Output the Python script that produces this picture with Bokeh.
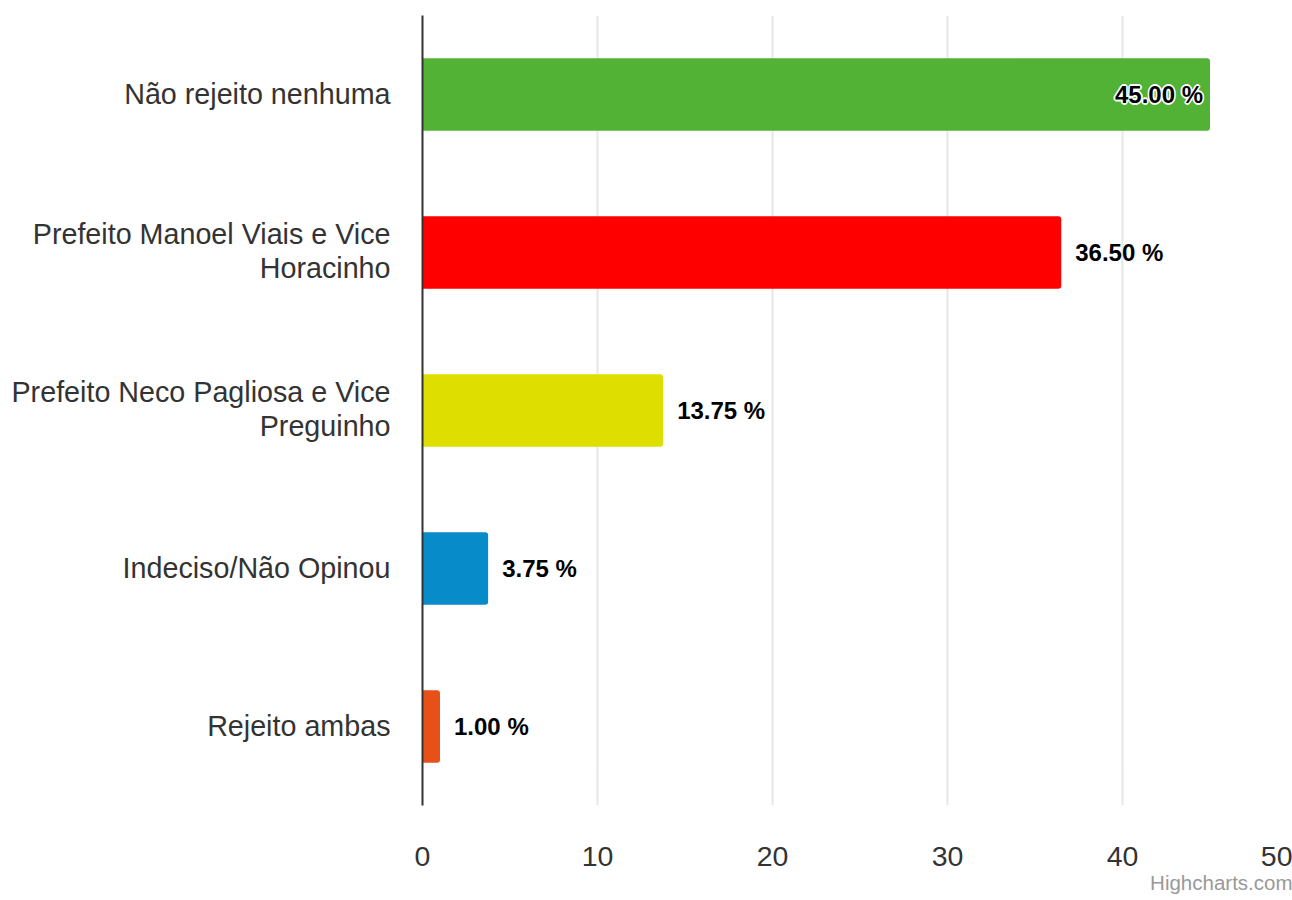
from bokeh.plotting import figure
from bokeh.models import Range1d, ColumnDataSource, FixedTicker, Title
from bokeh.embed import file_html
from bokeh.resources import INLINE
from bokeh.core.properties import value

categories = ["Não rejeito nenhuma",
              "Prefeito Manoel Viais e Vice Horacinho",
              "Prefeito Neco Pagliosa e Vice Preguinho",
              "Indeciso/Não Opinou",
              "Rejeito ambas"]
display_lines = [["Não rejeito nenhuma"],
                 ["Prefeito Manoel Viais e Vice", "Horacinho"],
                 ["Prefeito Neco Pagliosa e Vice", "Preguinho"],
                 ["Indeciso/Não Opinou"],
                 ["Rejeito ambas"]]
values = [45.00, 36.50, 13.75, 3.75, 1.00]
colors = ["#52b236", "#ff0000", "#dede00", "#078bc9", "#e8501a"]
x_ticks = [0, 10, 20, 30, 40, 50]

W, H = 1292, 900
LEFT, TOP, BOTTOM = 422, 15, 95
FRAME_H = H - TOP - BOTTOM
px_per_unit = 17.5
x_end = (W - LEFT) / px_per_unit

FONT = "Liberation Sans"
n_cat = len(categories)
band_px = FRAME_H / n_cat

# first category at the top
y_pos = [n_cat - 1 - i for i in range(n_cat)]

p = figure(width=W, height=H, output_backend="svg", toolbar_location=None,
           x_range=Range1d(0, x_end), y_range=Range1d(-0.5, n_cat - 0.5),
           min_border_left=LEFT, min_border_right=0, min_border_top=TOP, min_border_bottom=BOTTOM)
p.outline_line_color = None
p.background_fill_color = "white"

src = ColumnDataSource(dict(y=y_pos, val=values, color=colors, cat=categories))
p.hbar(y="y", right="val", left=0, height=0.46, fill_color="color", line_color=None,
       source=src, border_radius=(0, 3, 3, 0))

# data labels
lab_txt, lab_off, lab_align, inside = [], [], [], []
for v in values:
    lab_txt.append(f"{v:.2f} %")
    if v * px_per_unit + 14 + 100 > (W - LEFT):
        lab_off.append(-7)
        lab_align.append("right")
        inside.append(True)
    else:
        lab_off.append(14)
        lab_align.append("left")
        inside.append(False)
lsrc = ColumnDataSource(dict(y=y_pos, val=values, txt=lab_txt, off=lab_off, align=lab_align))

# white halo under labels that sit inside bars
halo = dict(y=[], val=[], txt=[], xo=[], yo=[], align=[])
shifts = [(-1.6, 0), (1.6, 0), (0, -1.6), (0, 1.6), (-1.1, -1.1), (1.1, -1.1), (-1.1, 1.1), (1.1, 1.1)]
for yv, v, t, o, a, ins in zip(y_pos, values, lab_txt, lab_off, lab_align, inside):
    if ins:
        for dx, dy in shifts:
            halo["y"].append(yv)
            halo["val"].append(v)
            halo["txt"].append(t)
            halo["xo"].append(o + dx)
            halo["yo"].append(dy)
            halo["align"].append(a)
p.text(x="val", y="y", text="txt", x_offset="xo", y_offset="yo", text_align="align",
       source=ColumnDataSource(halo), text_baseline="middle", text_font=value(FONT),
       text_font_style="bold", text_font_size="24px", text_color="white")
p.text(x="val", y="y", text="txt", x_offset="off", text_align="align", source=lsrc,
       text_baseline="middle", text_font=value(FONT), text_font_style="bold",
       text_font_size="24px", text_color="#000000")

# x axis: the last tick (50) sits at the page edge as in the original
shown_ticks = [min(t, x_end - 0.001) for t in x_ticks]
p.xaxis.ticker = FixedTicker(ticks=shown_ticks)
p.xaxis.major_label_overrides = {s: str(t) for s, t in zip(shown_ticks, x_ticks)}
p.xaxis.axis_line_color = None
p.xaxis.major_tick_line_color = None
p.xaxis.minor_tick_line_color = None
p.xaxis.major_tick_out = 0
p.xaxis.major_label_standoff = 41
p.xaxis.major_label_text_font = FONT
p.xaxis.major_label_text_font_size = "28.5px"
p.xaxis.major_label_text_color = "#333333"

# y axis: category names, wrapped onto lines placed around each bar's centre
y_ticks, y_over = [], {}
for yp, lines in zip(y_pos, display_lines):
    if len(lines) == 1:
        offs = [1]
    else:
        offs = [19, -15]
    for line, o in zip(lines, offs):
        t = round(yp + o / band_px, 6)
        y_ticks.append(t)
        y_over[t] = line
p.yaxis.ticker = FixedTicker(ticks=y_ticks)
p.yaxis.major_label_overrides = y_over
p.yaxis.axis_line_color = "#333333"
p.yaxis.axis_line_width = 2
p.yaxis.major_tick_line_color = None
p.yaxis.minor_tick_line_color = None
p.yaxis.major_tick_out = 0
p.yaxis.major_tick_in = 0
p.yaxis.major_label_standoff = 32
p.yaxis.major_label_text_font = FONT
p.yaxis.major_label_text_font_size = "28.7px"
p.yaxis.major_label_text_color = "#333333"

p.xgrid.ticker = FixedTicker(ticks=x_ticks)
p.xgrid.grid_line_color = "#e6e6e6"
p.xgrid.grid_line_width = 2
p.ygrid.grid_line_color = None

p.add_layout(Title(text="Highcharts.com", align="right", text_font=FONT,
                   text_font_size="20.5px", text_color="#999999", text_font_style="normal",
                   standoff=0), "below")

open("out.html", "w").write(file_html(p, INLINE))
